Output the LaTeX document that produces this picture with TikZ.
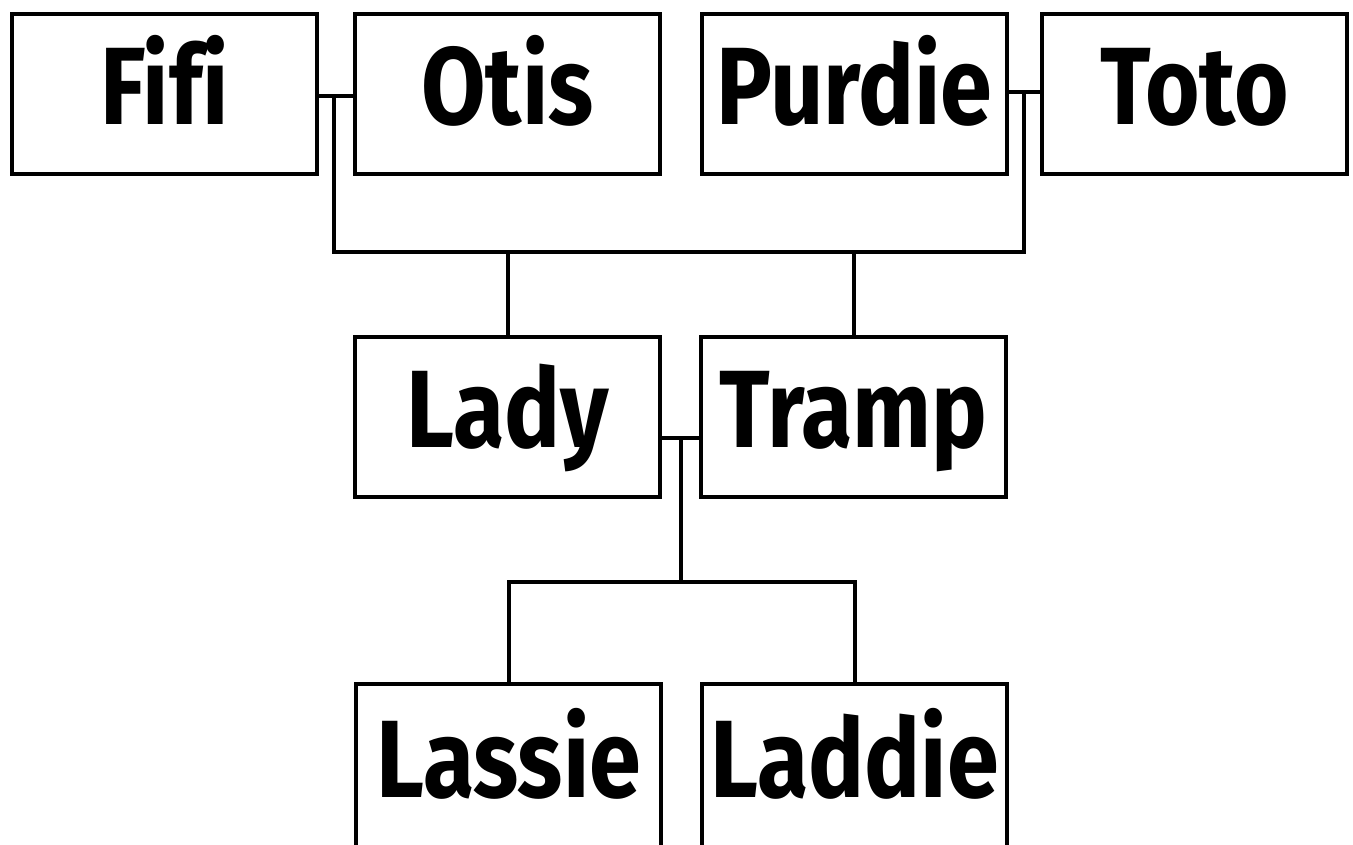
\documentclass[tikz,border=0pt]{standalone}
\usepackage{fontspec}
\setmainfont[FakeStretch=0.85,Ligatures=NoCommon]{Fira Sans}
\begin{document}
\begin{tikzpicture}[x=1pt,y=-1pt,
  person/.style={draw=black,line width=4.5pt,minimum width=305pt,minimum height=160pt,
    inner sep=0pt,text height=80pt,text depth=20pt,
    font=\fontsize{110}{110}\selectfont\bfseries},
  link/.style={draw=black,line width=4pt}]
\useasboundingbox (0,0) rectangle (1353,844);
\node[person] (Fifi)   at (164.5,94) {Fifi};
\node[person] (Otis)   at (507.5,94) {Otis};
\node[person] (Purdie) at (854.5,94) {Purdie};
\node[person] (Toto)   at (1194.5,94) {Toto};
\node[person] (Lady)   at (507.5,417) {Lady};
\node[person] (Tramp)  at (853.5,417) {Tramp};
\node[person,minimum height=166pt] (Lassie) at (508.5,767) {Lassie};
\node[person,minimum height=166pt] (Laddie) at (854.5,767) {Laddie};
\coordinate (m1) at (334,96);
\coordinate (m2) at (1024,91.5);
\coordinate (b1) at (334,252);
\coordinate (b2) at (1024,252);
\coordinate (m3) at (681,438);
\coordinate (c1) at (681,582);
\draw[link] (Fifi.east |- m1) -- (Otis.west |- m1);
\draw[link] (Purdie.east |- m2) -- (Toto.west |- m2);
\draw[link] (m1) -- (b1) -- (b2) -- (m2);
\draw[link] (Lady.north) -- (Lady.north |- b1);
\draw[link] (Tramp.north) -- (Tramp.north |- b1);
\draw[link] (Lady.east |- m3) -- (Tramp.west |- m3);
\draw[link] (m3) -- (c1);
\draw[link] (Lassie.north) |- (c1) -| (Laddie.north);
\end{tikzpicture}
\end{document}
